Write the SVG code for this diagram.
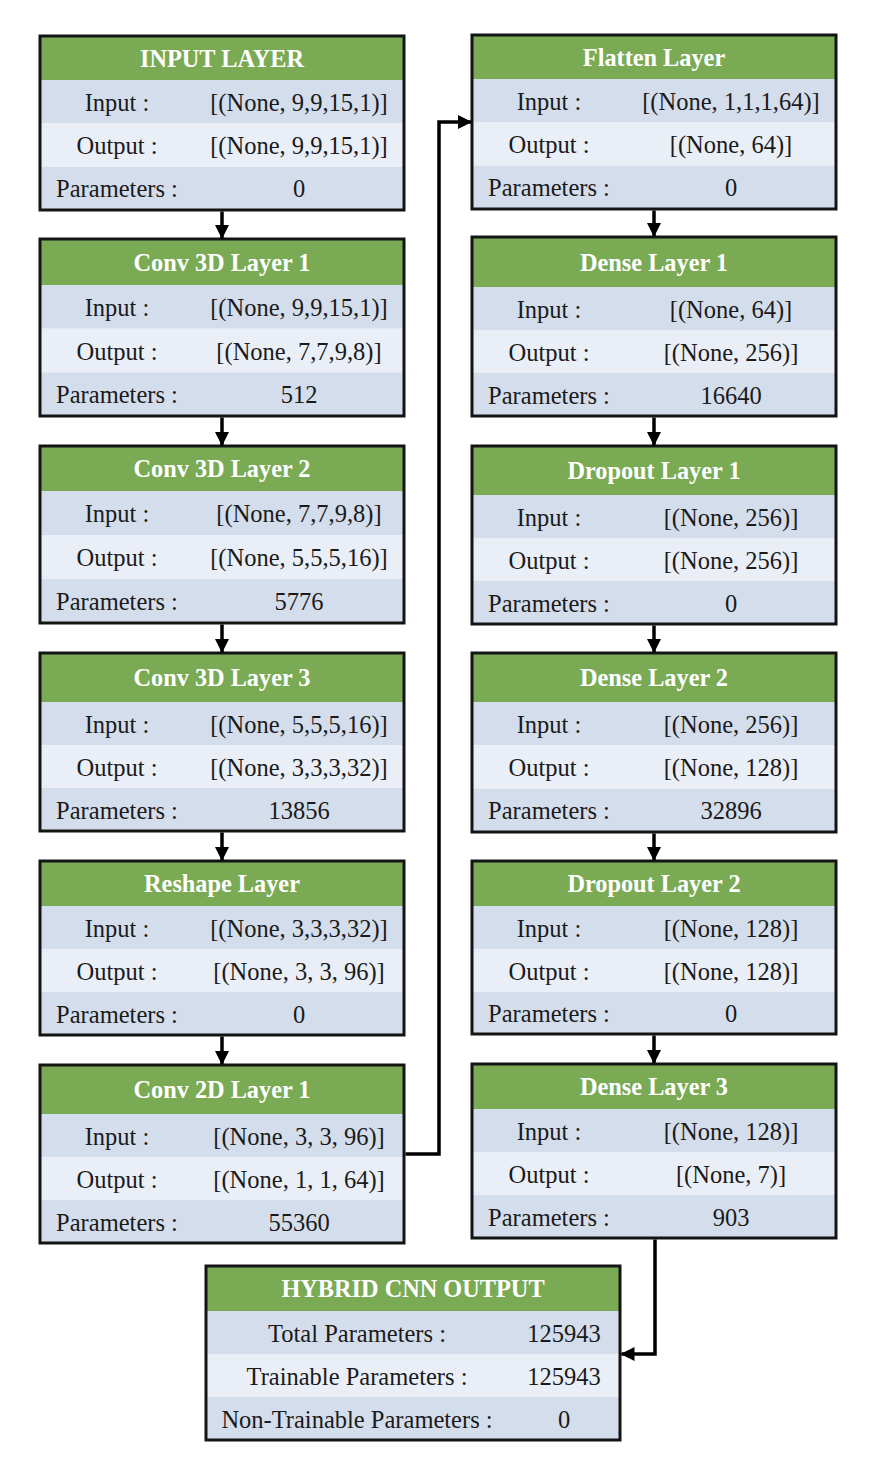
<svg xmlns="http://www.w3.org/2000/svg" width="880" height="1460" viewBox="0 0 880 1460" font-family="'Liberation Serif', 'DejaVu Serif', serif">
<style>
.hd{fill:#7BAA55}
.r1{fill:#D4DDEB}
.r2{fill:#E9EEF7}
.bx{fill:none;stroke:#141414;stroke-width:3}
text{font-family:'Liberation Serif','DejaVu Serif',serif;font-size:24.5px;fill:#1a1a1a;text-anchor:middle}
.ht{font-weight:bold;fill:#ffffff;font-size:24.3px}
.cn{fill:none;stroke:#000;stroke-width:3.5}
</style>
<defs>
<marker id="ah" markerUnits="userSpaceOnUse" markerWidth="14" markerHeight="14" viewBox="0 0 14 14" refX="13" refY="7" orient="auto">
<path d="M0,0 L14,7 L0,14 Z" fill="#000"/>
</marker>
</defs>
<rect width="880" height="1460" fill="#ffffff"/>

<g id="input-layer">
<rect class="hd" x="40" y="36" width="364" height="44"/>
<rect class="r1" x="40" y="80" width="364" height="43.3"/>
<rect class="r2" x="40" y="123.3" width="364" height="43.4"/>
<rect class="r1" x="40" y="166.7" width="364" height="43.3"/>
<rect class="bx" x="40" y="36" width="364" height="174"/>
<text class="ht" x="222" y="66.5">INPUT LAYER</text>
<text x="117" y="111">Input :</text><text x="299" y="111">[(None, 9,9,15,1)]</text>
<text x="117" y="154">Output :</text><text x="299" y="154">[(None, 9,9,15,1)]</text>
<text x="117" y="197">Parameters :</text><text x="299" y="197">0</text>
</g>

<g id="conv3d-1">
<rect class="hd" x="40" y="239" width="364" height="46"/>
<rect class="r1" x="40" y="285" width="364" height="43.7"/>
<rect class="r2" x="40" y="328.7" width="364" height="43.6"/>
<rect class="r1" x="40" y="372.3" width="364" height="43.7"/>
<rect class="bx" x="40" y="239" width="364" height="177"/>
<text class="ht" x="222" y="270.5">Conv 3D Layer 1</text>
<text x="117" y="316">Input :</text><text x="299" y="316">[(None, 9,9,15,1)]</text>
<text x="117" y="359.5">Output :</text><text x="299" y="359.5">[(None, 7,7,9,8)]</text>
<text x="117" y="403">Parameters :</text><text x="299" y="403">512</text>
</g>

<g id="conv3d-2">
<rect class="hd" x="40" y="446" width="364" height="45"/>
<rect class="r1" x="40" y="491" width="364" height="44"/>
<rect class="r2" x="40" y="535" width="364" height="44"/>
<rect class="r1" x="40" y="579" width="364" height="44"/>
<rect class="bx" x="40" y="446" width="364" height="177"/>
<text class="ht" x="222" y="477">Conv 3D Layer 2</text>
<text x="117" y="522">Input :</text><text x="299" y="522">[(None, 7,7,9,8)]</text>
<text x="117" y="566">Output :</text><text x="299" y="566">[(None, 5,5,5,16)]</text>
<text x="117" y="610">Parameters :</text><text x="299" y="610">5776</text>
</g>

<g id="conv3d-3">
<rect class="hd" x="40" y="653" width="364" height="49"/>
<rect class="r1" x="40" y="702" width="364" height="43"/>
<rect class="r2" x="40" y="745" width="364" height="43"/>
<rect class="r1" x="40" y="788" width="364" height="43"/>
<rect class="bx" x="40" y="653" width="364" height="178"/>
<text class="ht" x="222" y="686">Conv 3D Layer 3</text>
<text x="117" y="732.5">Input :</text><text x="299" y="732.5">[(None, 5,5,5,16)]</text>
<text x="117" y="775.5">Output :</text><text x="299" y="775.5">[(None, 3,3,3,32)]</text>
<text x="117" y="818.5">Parameters :</text><text x="299" y="818.5">13856</text>
</g>

<g id="reshape">
<rect class="hd" x="40" y="861" width="364" height="45"/>
<rect class="r1" x="40" y="906" width="364" height="43"/>
<rect class="r2" x="40" y="949" width="364" height="43"/>
<rect class="r1" x="40" y="992" width="364" height="43"/>
<rect class="bx" x="40" y="861" width="364" height="174"/>
<text class="ht" x="222" y="892">Reshape Layer</text>
<text x="117" y="936.5">Input :</text><text x="299" y="936.5">[(None, 3,3,3,32)]</text>
<text x="117" y="979.5">Output :</text><text x="299" y="979.5">[(None, 3, 3, 96)]</text>
<text x="117" y="1022.5">Parameters :</text><text x="299" y="1022.5">0</text>
</g>

<g id="conv2d-1">
<rect class="hd" x="40" y="1065" width="364" height="49"/>
<rect class="r1" x="40" y="1114" width="364" height="43"/>
<rect class="r2" x="40" y="1157" width="364" height="43"/>
<rect class="r1" x="40" y="1200" width="364" height="43"/>
<rect class="bx" x="40" y="1065" width="364" height="178"/>
<text class="ht" x="222" y="1098">Conv 2D Layer 1</text>
<text x="117" y="1144.5">Input :</text><text x="299" y="1144.5">[(None, 3, 3, 96)]</text>
<text x="117" y="1187.5">Output :</text><text x="299" y="1187.5">[(None, 1, 1, 64)]</text>
<text x="117" y="1230.5">Parameters :</text><text x="299" y="1230.5">55360</text>
</g>

<g id="flatten">
<rect class="hd" x="472" y="35" width="364" height="44"/>
<rect class="r1" x="472" y="79" width="364" height="43.3"/>
<rect class="r2" x="472" y="122.3" width="364" height="43.4"/>
<rect class="r1" x="472" y="165.7" width="364" height="43.3"/>
<rect class="bx" x="472" y="35" width="364" height="174"/>
<text class="ht" x="654" y="65.5">Flatten Layer</text>
<text x="549" y="109.7">Input :</text><text x="731" y="109.7">[(None, 1,1,1,64)]</text>
<text x="549" y="153">Output :</text><text x="731" y="153">[(None, 64)]</text>
<text x="549" y="196.3">Parameters :</text><text x="731" y="196.3">0</text>
</g>

<g id="dense-1">
<rect class="hd" x="472" y="237" width="364" height="50"/>
<rect class="r1" x="472" y="287" width="364" height="43"/>
<rect class="r2" x="472" y="330" width="364" height="43"/>
<rect class="r1" x="472" y="373" width="364" height="43"/>
<rect class="bx" x="472" y="237" width="364" height="179"/>
<text class="ht" x="654" y="270.5">Dense Layer 1</text>
<text x="549" y="317.5">Input :</text><text x="731" y="317.5">[(None, 64)]</text>
<text x="549" y="360.5">Output :</text><text x="731" y="360.5">[(None, 256)]</text>
<text x="549" y="403.5">Parameters :</text><text x="731" y="403.5">16640</text>
</g>

<g id="dropout-1">
<rect class="hd" x="472" y="446" width="364" height="49"/>
<rect class="r1" x="472" y="495" width="364" height="43"/>
<rect class="r2" x="472" y="538" width="364" height="43"/>
<rect class="r1" x="472" y="581" width="364" height="43"/>
<rect class="bx" x="472" y="446" width="364" height="178"/>
<text class="ht" x="654" y="479">Dropout Layer 1</text>
<text x="549" y="525.5">Input :</text><text x="731" y="525.5">[(None, 256)]</text>
<text x="549" y="568.5">Output :</text><text x="731" y="568.5">[(None, 256)]</text>
<text x="549" y="611.5">Parameters :</text><text x="731" y="611.5">0</text>
</g>

<g id="dense-2">
<rect class="hd" x="472" y="653" width="364" height="49"/>
<rect class="r1" x="472" y="702" width="364" height="43.3"/>
<rect class="r2" x="472" y="745.3" width="364" height="43.4"/>
<rect class="r1" x="472" y="788.7" width="364" height="43.3"/>
<rect class="bx" x="472" y="653" width="364" height="179"/>
<text class="ht" x="654" y="686">Dense Layer 2</text>
<text x="549" y="732.7">Input :</text><text x="731" y="732.7">[(None, 256)]</text>
<text x="549" y="776">Output :</text><text x="731" y="776">[(None, 128)]</text>
<text x="549" y="819.3">Parameters :</text><text x="731" y="819.3">32896</text>
</g>

<g id="dropout-2">
<rect class="hd" x="472" y="861" width="364" height="45"/>
<rect class="r1" x="472" y="906" width="364" height="43"/>
<rect class="r2" x="472" y="949" width="364" height="43"/>
<rect class="r1" x="472" y="992" width="364" height="42"/>
<rect class="bx" x="472" y="861" width="364" height="173"/>
<text class="ht" x="654" y="892">Dropout Layer 2</text>
<text x="549" y="936.5">Input :</text><text x="731" y="936.5">[(None, 128)]</text>
<text x="549" y="979.5">Output :</text><text x="731" y="979.5">[(None, 128)]</text>
<text x="549" y="1022">Parameters :</text><text x="731" y="1022">0</text>
</g>

<g id="dense-3">
<rect class="hd" x="472" y="1064" width="364" height="45"/>
<rect class="r1" x="472" y="1109" width="364" height="43"/>
<rect class="r2" x="472" y="1152" width="364" height="43"/>
<rect class="r1" x="472" y="1195" width="364" height="43"/>
<rect class="bx" x="472" y="1064" width="364" height="174"/>
<text class="ht" x="654" y="1095">Dense Layer 3</text>
<text x="549" y="1139.5">Input :</text><text x="731" y="1139.5">[(None, 128)]</text>
<text x="549" y="1182.5">Output :</text><text x="731" y="1182.5">[(None, 7)]</text>
<text x="549" y="1225.5">Parameters :</text><text x="731" y="1225.5">903</text>
</g>

<g id="hybrid-output">
<rect class="hd" x="206" y="1266" width="414" height="45"/>
<rect class="r1" x="206" y="1311" width="414" height="43"/>
<rect class="r2" x="206" y="1354" width="414" height="43"/>
<rect class="r1" x="206" y="1397" width="414" height="43"/>
<rect class="bx" x="206" y="1266" width="414" height="174"/>
<text class="ht" x="413" y="1297">HYBRID CNN OUTPUT</text>
<text x="357" y="1341.5">Total Parameters :</text><text x="564" y="1341.5">125943</text>
<text x="357" y="1384.5">Trainable Parameters :</text><text x="564" y="1384.5">125943</text>
<text x="357" y="1427.5">Non-Trainable Parameters :</text><text x="564" y="1427.5">0</text>
</g>

<g id="connectors">
<path class="cn" d="M222,211.5 V238" marker-end="url(#ah)"/>
<path class="cn" d="M222,417.5 V445" marker-end="url(#ah)"/>
<path class="cn" d="M222,624.5 V652" marker-end="url(#ah)"/>
<path class="cn" d="M222,832.5 V860" marker-end="url(#ah)"/>
<path class="cn" d="M222,1036.5 V1064" marker-end="url(#ah)"/>
<path class="cn" d="M654,210.5 V236" marker-end="url(#ah)"/>
<path class="cn" d="M654,417.5 V445" marker-end="url(#ah)"/>
<path class="cn" d="M654,625.5 V652" marker-end="url(#ah)"/>
<path class="cn" d="M654,833.5 V860" marker-end="url(#ah)"/>
<path class="cn" d="M654,1035.5 V1063" marker-end="url(#ah)"/>
<path class="cn" d="M405.5,1154 H439 V122 H471" marker-end="url(#ah)"/>
<path class="cn" d="M655,1239.5 V1354 H621.5" marker-end="url(#ah)"/>
</g>
</svg>
